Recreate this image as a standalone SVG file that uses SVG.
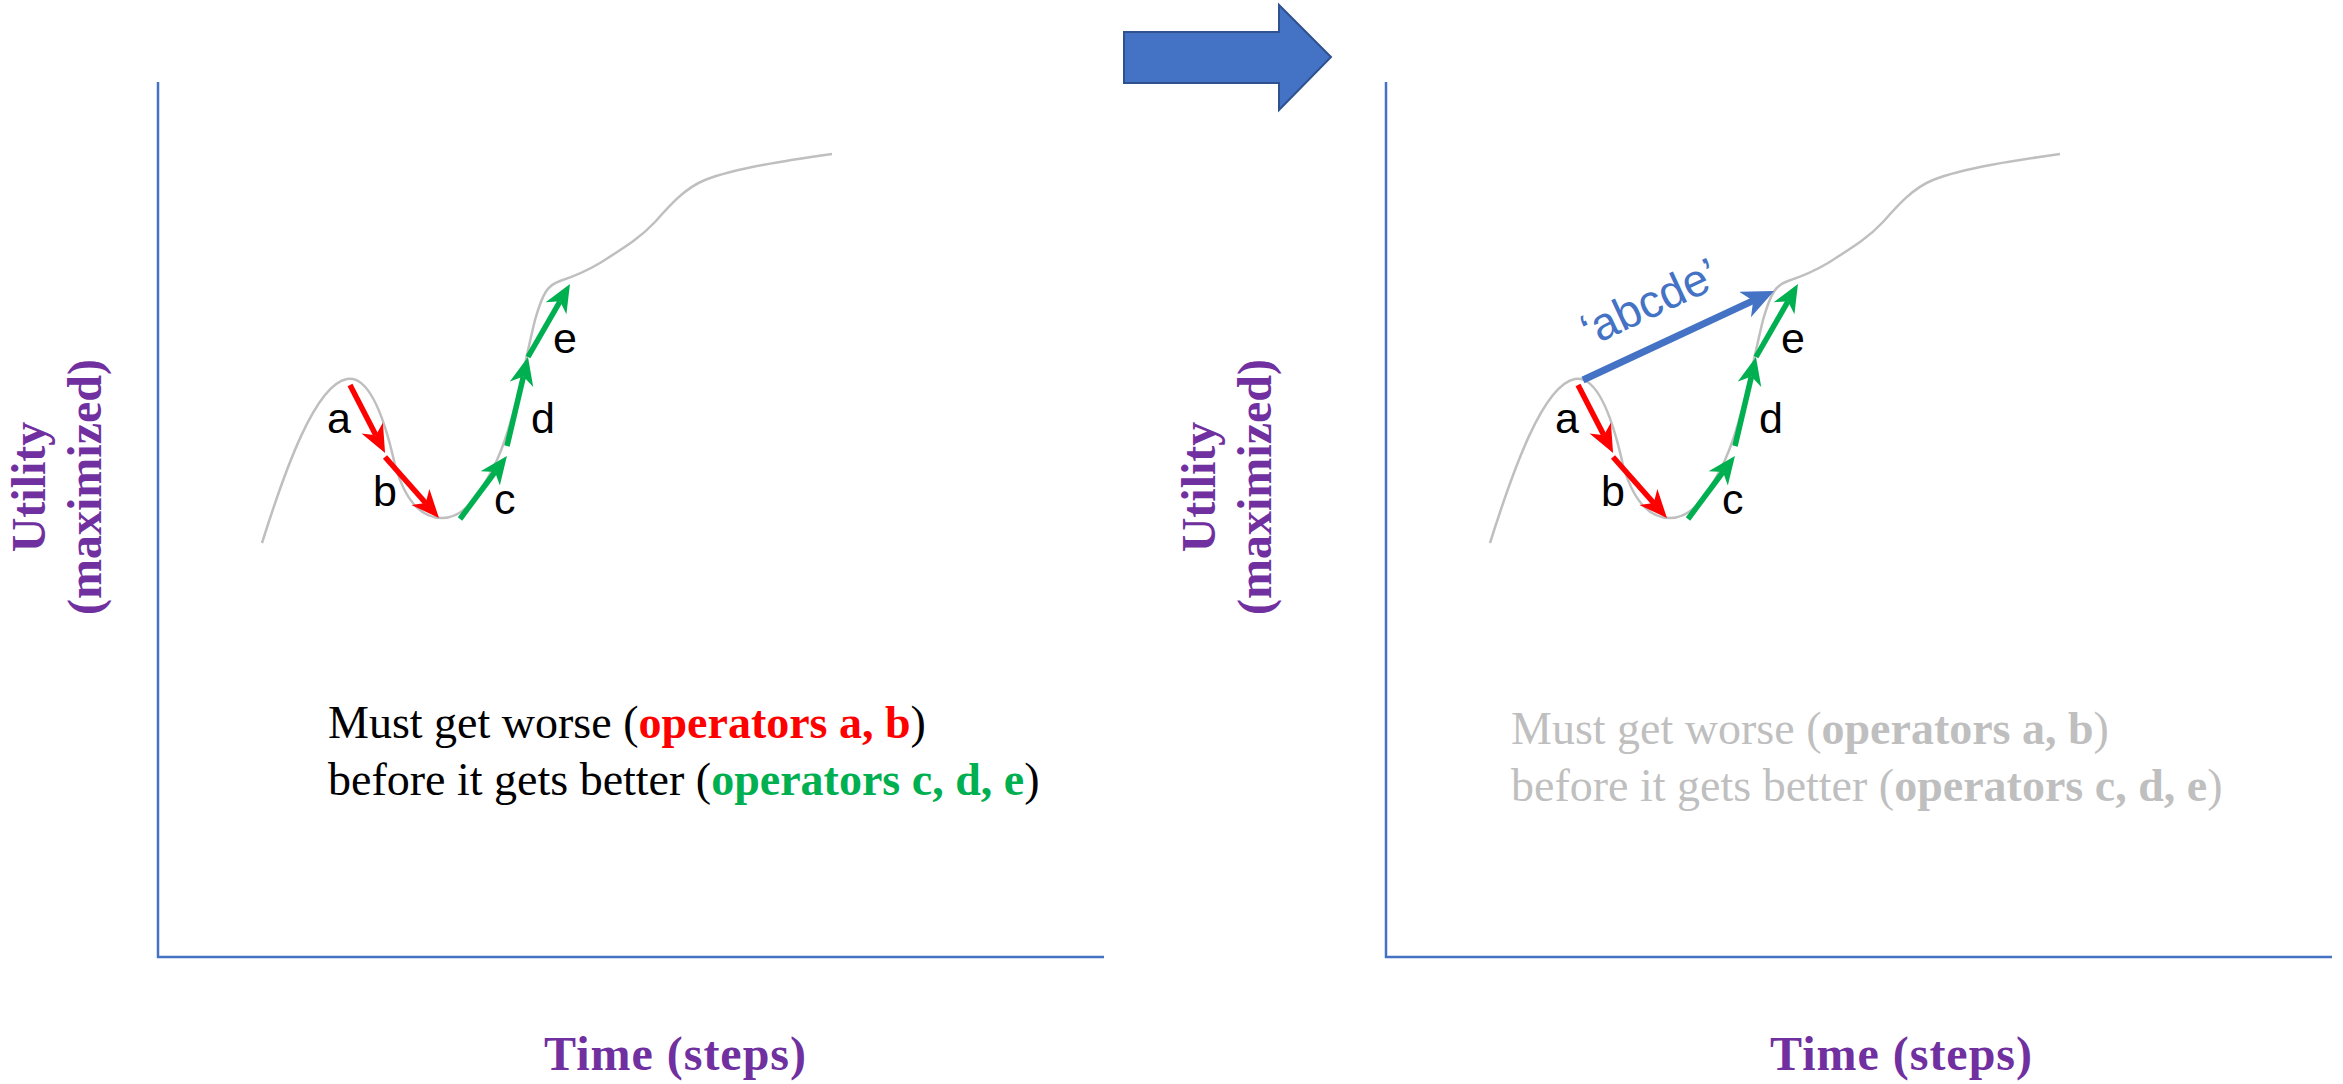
<svg xmlns="http://www.w3.org/2000/svg" width="2343" height="1084" viewBox="0 0 2343 1084">
<style>
.axis{stroke:#4472C4;stroke-width:2.5;fill:none}
.curve{stroke:#BFBFBF;stroke-width:2.5;fill:none}
.red{stroke:#FF0000;stroke-width:5.5;fill:none}
.green{stroke:#00B050;stroke-width:5.5;fill:none}
.blue{stroke:#4472C4;stroke-width:7;fill:none}
.lbl{font-family:"Liberation Sans",Arial,sans-serif;font-size:43px;fill:#000}
.ax{font-family:"Liberation Serif","Times New Roman",serif;font-weight:bold;font-size:48px;fill:#7030A0}
.tx{font-family:"Liberation Serif","Times New Roman",serif;font-size:46px}
.b{font-weight:bold}
</style>
<defs>
<marker id="mr" markerUnits="userSpaceOnUse" markerWidth="30" markerHeight="26" refX="8" refY="12" orient="auto" viewBox="0 0 30 26"><path d="M0,0 L28,12 L0,24 L8,12 Z" fill="#FF0000"/></marker>
<marker id="mg" markerUnits="userSpaceOnUse" markerWidth="30" markerHeight="26" refX="8" refY="12" orient="auto" viewBox="0 0 30 26"><path d="M0,0 L28,12 L0,24 L8,12 Z" fill="#00B050"/></marker>
<marker id="mb" markerUnits="userSpaceOnUse" markerWidth="34" markerHeight="30" refX="9" refY="14" orient="auto" viewBox="0 0 34 30"><path d="M0,0 L32,14 L0,28 L9,14 Z" fill="#4472C4"/></marker>
<path id="curveL" d="M262,543 C285,470 315,385 347,379 C370,375 385,420 395,465 C405,500 420,518 442,518 C465,518 480,495 497,460 C515,420 525,360 535,320 C543,292 548,285 560,281 C575,276 585,272 600,263 C625,247 640,238 655,222 C670,205 685,188 705,180 C735,168 790,160 832,154"/>
</defs>
<rect width="2343" height="1084" fill="#fff"/>

<g id="big-arrow">
<polygon points="1124,32 1279,32 1279,5 1331,57 1279,110 1279,83 1124,83" fill="#4472C4" stroke="#2F528F" stroke-width="2"/>
</g>

<g id="left-panel">
<g id="left-axes">
<line class="axis" x1="158" y1="82" x2="158" y2="958"/>
<line class="axis" x1="157" y1="957" x2="1104" y2="957"/>
</g>
<g id="left-curve"><use href="#curveL" class="curve"/></g>
<g id="left-ylabel">
<text class="ax" text-anchor="middle" transform="translate(45,487) rotate(-90)">Utility</text>
<text class="ax" text-anchor="middle" transform="translate(101,487) rotate(-90)">(maximized)</text>
</g>
<g id="left-xlabel"><text class="ax" x="675" y="1070" text-anchor="middle" textLength="262">Time (steps)</text></g>
<g id="left-labels">
<text class="lbl" x="327" y="433">a</text>
<text class="lbl" x="373" y="506">b</text>
<text class="lbl" x="494" y="514">c</text>
<text class="lbl" x="531" y="433">d</text>
<text class="lbl" x="553" y="353">e</text>
</g>
<g id="left-text" class="tx">
<text x="328" y="738">Must get worse (<tspan class="b" fill="#FF0000">operators a, b</tspan>)</text>
<text x="328" y="795">before it gets better (<tspan class="b" fill="#00B050">operators c, d, e</tspan>)</text>
</g>
</g>

<g id="right-panel">
<g id="right-axes">
<line class="axis" x1="1386" y1="82" x2="1386" y2="958"/>
<line class="axis" x1="1385" y1="957" x2="2332" y2="957"/>
</g>
<g id="right-curve"><use href="#curveL" class="curve" transform="translate(1228,0)"/></g>
<g id="right-ylabel">
<text class="ax" text-anchor="middle" transform="translate(1215,487) rotate(-90)">Utility</text>
<text class="ax" text-anchor="middle" transform="translate(1271,487) rotate(-90)">(maximized)</text>
</g>
<g id="right-xlabel"><text class="ax" x="1901" y="1070" text-anchor="middle" textLength="262">Time (steps)</text></g>
<g id="right-labels">
<text class="lbl" x="1555" y="433">a</text>
<text class="lbl" x="1601" y="506">b</text>
<text class="lbl" x="1722" y="514">c</text>
<text class="lbl" x="1759" y="433">d</text>
<text class="lbl" x="1781" y="353">e</text>
<text class="lbl" style="fill:#4472C4;font-size:46px" transform="translate(1590,347) rotate(-25)">‘abcde’</text>
</g>
<g id="right-text" class="tx" fill="#BFBFBF">
<text x="1511" y="744">Must get worse (<tspan class="b">operators a, b</tspan>)</text>
<text x="1511" y="801">before it gets better (<tspan class="b">operators c, d, e</tspan>)</text>
</g>
</g>

<g id="connectors">
<line class="red" x1="350" y1="385" x2="375.9" y2="435.2" marker-end="url(#mr)"/>
<line class="red" x1="385" y1="457" x2="425.7" y2="503" marker-end="url(#mr)"/>
<line class="green" x1="460" y1="519" x2="495" y2="472" marker-end="url(#mg)"/>
<line class="green" x1="507" y1="446" x2="523.4" y2="376.5" marker-end="url(#mg)"/>
<line class="green" x1="528" y1="357" x2="560" y2="301.3" marker-end="url(#mg)"/>
<line class="red" x1="1578" y1="385" x2="1603.9" y2="435.2" marker-end="url(#mr)"/>
<line class="red" x1="1613" y1="457" x2="1653.7" y2="503" marker-end="url(#mr)"/>
<line class="green" x1="1688" y1="519" x2="1723" y2="472" marker-end="url(#mg)"/>
<line class="green" x1="1735" y1="446" x2="1751.4" y2="376.5" marker-end="url(#mg)"/>
<line class="green" x1="1756" y1="357" x2="1788" y2="301.3" marker-end="url(#mg)"/>
<line class="blue" x1="1583" y1="380" x2="1753.2" y2="300.7" marker-end="url(#mb)"/>
</g>
</svg>
